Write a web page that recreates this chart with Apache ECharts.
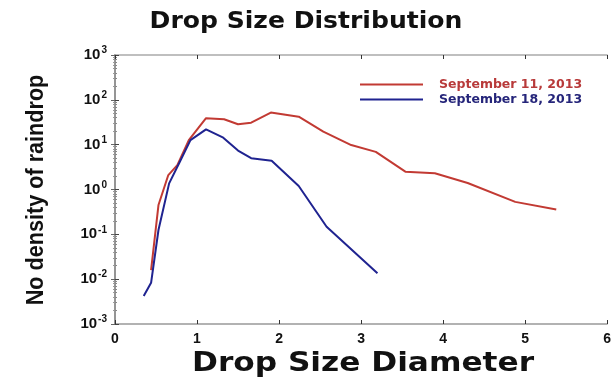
<!DOCTYPE html>
<html>
<head>
<meta charset="utf-8">
<script src="https://cdn.jsdelivr.net/npm/echarts@6/dist/echarts.min.js"></script>
<style>
html,body{margin:0;padding:0;background:#fff;}
#chart{width:614px;height:378px;}
</style>
</head>
<body>
<div id="chart"></div>
<script>
// Drop size (mm) vs number density for two rain events
const sep11Diameter = [0.44, 0.53, 0.65, 0.76, 0.90, 1.11, 1.33, 1.50, 1.66, 1.90, 2.24, 2.54, 2.88, 3.18, 3.54, 3.90, 4.30, 4.88, 5.38];
const sep11Density  = [0.016, 0.45, 2.1, 3.5, 12.6, 39, 37, 28.5, 31, 52, 42, 19.5, 9.8, 6.9, 2.5, 2.3, 1.4, 0.53, 0.36];

const sep18Diameter = [0.35, 0.44, 0.53, 0.66, 0.78, 0.92, 1.11, 1.32, 1.50, 1.66, 1.91, 2.24, 2.58, 3.20];
const sep18Density  = [0.0042, 0.0083, 0.125, 1.37, 3.8, 12.6, 22, 14.3, 7.4, 5.0, 4.4, 1.2, 0.148, 0.0135];

const seriesNames = ['September 11, 2013', 'September 18, 2013'];
const xTicks = [0, 1, 2, 3, 4, 5, 6];
const yExponents = [-3, -2, -1, 0, 1, 2, 3];

const titleText = 'Drop Size Distribution';
const xName = 'Drop Size Diameter';
const yName = 'No density of raindrop';

const red = '#c23a33';
const blue = '#1f2390';

const pairs = (xs, ys) => xs.map((x, i) => [x, ys[i]]);

const chart = echarts.init(document.getElementById('chart'));
chart.setOption({
  backgroundColor: '#ffffff',
  animation: false,
  graphic: [
    { // heading, stretched wide and heavy
      type: 'text', x: 306, y: 22, scaleX: 1.09,
      style: {text: titleText, font: 'bold 23px "DejaVu Sans"', fill: '#111', align: 'center', verticalAlign: 'middle'}
    },
    { // horizontal axis caption
      type: 'text', x: 363, y: 364, scaleX: 1.2,
      style: {text: xName, font: 'bold 26px "DejaVu Sans"', fill: '#111', align: 'center', verticalAlign: 'middle'}
    },
    { // vertical axis caption in a condensed face
      type: 'text', x: 37, y: 190, rotation: Math.PI / 2, scaleX: 0.94,
      style: {text: yName, font: 'bold 23px "Liberation Sans"', fill: '#111', align: 'center', verticalAlign: 'middle'}
    }
  ],
  legend: {
    orient: 'vertical',
    left: 355, top: 73,
    itemWidth: 63, itemHeight: 2, itemGap: 2,
    icon: 'rect',
    data: [
      {name: seriesNames[0], textStyle: {color: '#b83a3a'}},
      {name: seriesNames[1], textStyle: {color: '#25257a'}}
    ],
    textStyle: {fontFamily: 'DejaVu Sans', fontWeight: 'bold', fontSize: 12.5, padding: [0, 0, 0, 11]}
  },
  grid: {left: 115, right: 2, top: 55, bottom: 54, containLabel: false},
  xAxis: [{
    type: 'value', min: 0, max: 6, interval: 1,
    axisLine: {lineStyle: {color: '#999', width: 1.5}},
    axisTick: {inside: true, length: 4, lineStyle: {color: '#333'}},
    axisLabel: {
      fontFamily: 'Liberation Sans', fontWeight: 'bold', fontSize: 14, color: '#111', margin: 8,
      formatter: v => xTicks.includes(v) ? String(v) : ''
    },
    splitLine: {show: false}
  }, {
    type: 'value', min: 0, max: 6, interval: 1, position: 'top',
    axisLine: {lineStyle: {color: '#aaa', width: 1.5}},
    axisTick: {inside: true, length: 4, lineStyle: {color: '#333'}},
    axisLabel: {show: false}, splitLine: {show: false}
  }],
  yAxis: [{
    type: 'log', logBase: 10, min: 0.001, max: 1000,
    axisLine: {lineStyle: {color: '#222', width: 1.5}},
    axisTick: {inside: true, length: 4, lineStyle: {color: '#444'}},
    minorTick: {show: true, splitNumber: 9, length: 2, lineStyle: {color: '#888'}},
    axisLabel: {
      margin: 8,
      formatter: v => {
        const e = Math.round(Math.log10(v));
        return yExponents.includes(e) ? '{b|10}{s|' + e + '}' : '';
      },
      rich: {
        b: {fontFamily: 'Liberation Sans', fontWeight: 'bold', fontSize: 15, color: '#111'},
        s: {fontFamily: 'Liberation Sans', fontWeight: 'bold', fontSize: 10, color: '#111', verticalAlign: 'top', padding: [0, 0, 9, 1]}
      }
    },
    splitLine: {show: false}
  }, {
    type: 'log', logBase: 10, min: 0.001, max: 1000, position: 'right',
    axisLine: {lineStyle: {color: '#aaa', width: 1.5}},
    axisTick: {inside: true, length: 4, lineStyle: {color: '#666'}},
    minorTick: {show: true, splitNumber: 9, length: 2, lineStyle: {color: '#999'}},
    axisLabel: {show: false}, splitLine: {show: false}
  }],
  series: [{
    name: seriesNames[0], type: 'line', showSymbol: false, symbol: 'none',
    color: red, lineStyle: {color: red, width: 2},
    data: pairs(sep11Diameter, sep11Density)
  }, {
    name: seriesNames[1], type: 'line', showSymbol: false, symbol: 'none',
    color: blue, lineStyle: {color: blue, width: 2},
    data: pairs(sep18Diameter, sep18Density)
  }]
});
</script>
</body>
</html>
